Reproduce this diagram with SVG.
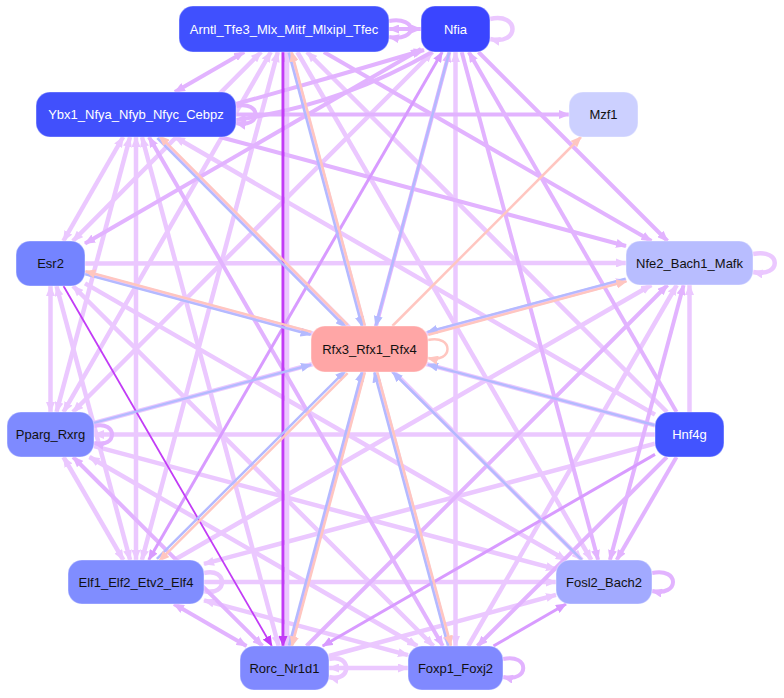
<svg xmlns="http://www.w3.org/2000/svg" width="784" height="698" viewBox="0 0 784 698">
<style>
.e{fill:none}
.e1{stroke:#ebc8ff;stroke-width:4.5}
.e2{stroke:#e2b3ff;stroke-width:4}
.e3{stroke:#d89bff;stroke-width:3}
.e4{stroke:#c23cf6;stroke-width:3}
.eb{stroke:#b4baff;stroke-width:2.5}
.ep{stroke:#ffc6c0;stroke-width:2.5}
.n rect{stroke-width:1.2;stroke:#ffffff;stroke-opacity:0.35}
.n text{font-family:"Liberation Sans",Arial,sans-serif;font-size:13px;text-anchor:middle}
.w text{fill:#ffffff}
.k text{fill:#111111}
</style>
<defs>
<marker id="a1" viewBox="0 0 11 9" refX="10" refY="4.5" markerWidth="11" markerHeight="9" markerUnits="userSpaceOnUse" orient="auto-start-reverse"><path d="M0,0L11,4.5L0,9z" fill="#ebc8ff"/></marker>
<marker id="a2" viewBox="0 0 11 9" refX="10" refY="4.5" markerWidth="11" markerHeight="9" markerUnits="userSpaceOnUse" orient="auto-start-reverse"><path d="M0,0L11,4.5L0,9z" fill="#e2b3ff"/></marker>
<marker id="a3" viewBox="0 0 11 9" refX="10" refY="4.5" markerWidth="11" markerHeight="9" markerUnits="userSpaceOnUse" orient="auto-start-reverse"><path d="M0,0L11,4.5L0,9z" fill="#d89bff"/></marker>
<marker id="a4" viewBox="0 0 11 9" refX="10" refY="4.5" markerWidth="11" markerHeight="9" markerUnits="userSpaceOnUse" orient="auto-start-reverse"><path d="M0,0L11,4.5L0,9z" fill="#c23cf6"/></marker>
<marker id="ab" viewBox="0 0 11 9" refX="10" refY="4.5" markerWidth="11" markerHeight="9" markerUnits="userSpaceOnUse" orient="auto-start-reverse"><path d="M0,0L11,4.5L0,9z" fill="#b4baff"/></marker>
<marker id="ap" viewBox="0 0 11 9" refX="10" refY="4.5" markerWidth="11" markerHeight="9" markerUnits="userSpaceOnUse" orient="auto-start-reverse"><path d="M0,0L11,4.5L0,9z" fill="#ffc6c0"/></marker>
</defs>
<g id="edges" class="e">
<g class="e1" marker-end="url(#a1)">
<line x1="261.1" y1="52" x2="72.9" y2="241" marker-start="url(#a1)"/>
<line x1="270.8" y1="52" x2="63.5" y2="412" marker-start="url(#a1)"/>
<line x1="277.8" y1="52" x2="141.9" y2="560" marker-start="url(#a1)"/>
<line x1="287" y1="646" x2="287" y2="52"/>
<line x1="290.2" y1="52" x2="449.6" y2="646" marker-start="url(#a1)"/>
<line x1="432.5" y1="52" x2="73" y2="412" marker-start="url(#a1)"/>
<line x1="455.5" y1="52" x2="455.5" y2="646" marker-start="url(#a1)"/>
<line x1="123.1" y1="137" x2="63.4" y2="241" marker-start="url(#a1)"/>
<line x1="130" y1="137" x2="56.5" y2="412" marker-start="url(#a1)"/>
<line x1="136" y1="137" x2="136" y2="560" marker-start="url(#a1)"/>
<line x1="142" y1="137" x2="278.6" y2="646" marker-start="url(#a1)"/>
<line x1="50.5" y1="286" x2="50.5" y2="412" marker-start="url(#a1)"/>
<line x1="56.5" y1="286" x2="130.1" y2="560" marker-start="url(#a1)"/>
<line x1="73" y1="286" x2="433.5" y2="646" marker-start="url(#a1)"/>
<line x1="63.5" y1="457" x2="123.3" y2="560" marker-start="url(#a1)"/>
<line x1="89.5" y1="457" x2="417.3" y2="646" marker-start="url(#a1)"/>
<line x1="204" y1="600.3" x2="408" y2="655.2" marker-start="url(#a1)"/>
<line x1="329" y1="668" x2="408" y2="668" marker-start="url(#a1)"/>
<line x1="667" y1="412" x2="307" y2="52"/>
<line x1="655" y1="414.6" x2="174.9" y2="137"/>
<line x1="655" y1="425.3" x2="85" y2="272.7"/>
<line x1="655" y1="434.5" x2="94" y2="434.5"/>
<line x1="655" y1="443.7" x2="204" y2="563.9"/>
<line x1="689.5" y1="412" x2="689.5" y2="285"/>
<line x1="85" y1="263.5" x2="626" y2="263"/>
<line x1="94" y1="422.8" x2="626" y2="280"/>
<line x1="174.2" y1="560" x2="651.3" y2="285"/>
<line x1="468.2" y1="646" x2="676.8" y2="285"/>
<line x1="297.3" y1="52" x2="591.3" y2="560"/>
<line x1="158.5" y1="137" x2="582" y2="560"/>
<line x1="85" y1="283.4" x2="565.8" y2="560"/>
<line x1="94" y1="446.1" x2="556" y2="569.2"/>
<line x1="204" y1="582" x2="556" y2="582"/>
<line x1="329" y1="656" x2="556" y2="594.9"/>
<path d="M490,19 C520,12 520,46 490,39"/>
<path d="M753,254 C782,248 782,278 753,272"/>
<path d="M204,573 C228,567 228,597 204,591"/>
<path d="M329,659 C352,653 352,683 329,677"/>
</g>
<g class="e2" marker-end="url(#a2)">
<line x1="389" y1="29" x2="421" y2="29" marker-start="url(#a2)"/>
<line x1="244.2" y1="52" x2="174.9" y2="92" marker-start="url(#a2)"/>
<path d="M236,104 Q330,78 424,50"/>
<path d="M432,52 Q340,105 236,120"/>
<line x1="421" y1="49" x2="85" y2="243.5" marker-start="url(#a2)"/>
<line x1="449.3" y1="52" x2="290.4" y2="646" marker-start="url(#a2)"/>
<line x1="149" y1="137" x2="442.8" y2="646" marker-start="url(#a2)"/>
<line x1="73.1" y1="457" x2="262.5" y2="646" marker-start="url(#a2)"/>
<line x1="174" y1="604" x2="246.5" y2="646" marker-start="url(#a2)"/>
<line x1="676.5" y1="412" x2="468.8" y2="52"/>
<line x1="666.9" y1="457" x2="477.5" y2="646"/>
<line x1="676.5" y1="457" x2="616.7" y2="560"/>
<line x1="323.9" y1="52" x2="651.4" y2="241"/>
<line x1="478.4" y1="52" x2="667.5" y2="241"/>
<line x1="219.9" y1="137" x2="626" y2="246"/>
<line x1="306.5" y1="646" x2="667.5" y2="285"/>
<line x1="609.9" y1="560" x2="683.6" y2="285" marker-start="url(#a2)"/>
<line x1="461.7" y1="52" x2="598.1" y2="560"/>
<line x1="236" y1="114.5" x2="569" y2="114.5"/>
<path d="M389,21 C418,16 418,42 389,37"/>
<path d="M236,106 C262,100 262,129 236,123"/>
<path d="M94,426 C118,420 118,449 94,443"/>
<path d="M503,659 C530,653 530,683 503,677"/>
<path d="M652,573 C680,567 680,597 652,591"/>
</g>
<g class="e3" marker-end="url(#a3)">
<line x1="442.2" y1="52" x2="148.7" y2="560" marker-start="url(#a3)"/>
<line x1="655" y1="454.4" x2="322.7" y2="646"/>
<line x1="493.5" y1="646" x2="566" y2="604"/>
</g>
<g class="e4" marker-end="url(#a4)">
<line x1="283" y1="52" x2="283" y2="646"/>
<line x1="63.5" y1="286" x2="271.8" y2="646" style="stroke-width:1.8"/>
</g>
<g class="eb" marker-end="url(#ab)">
<line x1="449.3" y1="52" x2="375.7" y2="326"/>
<line x1="288.7" y1="52.4" x2="362" y2="326.4"/>
<line x1="157.3" y1="138.1" x2="345.5" y2="327.1"/>
<line x1="84.6" y1="274.1" x2="310.6" y2="334.7"/>
<line x1="625.6" y1="278.6" x2="427.6" y2="331.9"/>
<line x1="156.9" y1="558.9" x2="345.4" y2="370.9"/>
<line x1="289" y1="645.6" x2="362" y2="371.6"/>
<line x1="448.2" y1="646.4" x2="374.3" y2="372.4"/>
<line x1="94" y1="422.9" x2="311" y2="364.7"/>
<line x1="655" y1="425.3" x2="428" y2="364.6"/>
<line x1="581.9" y1="560" x2="392.6" y2="372"/>
</g>
<g class="ep" marker-end="url(#ap)">
<line x1="364.8" y1="325.6" x2="291.5" y2="51.6"/>
<line x1="347.7" y1="324.9" x2="159.5" y2="135.9"/>
<line x1="311.4" y1="331.9" x2="85.4" y2="271.3"/>
<line x1="428.4" y1="334.7" x2="626.4" y2="281.4"/>
<line x1="347.6" y1="373.1" x2="159.1" y2="561.1"/>
<line x1="364.8" y1="372.4" x2="291.8" y2="646.4"/>
<line x1="377.1" y1="371.6" x2="451" y2="645.6"/>
<line x1="392.4" y1="326" x2="581" y2="137"/>
<path d="M428,340 C454,334 454,364 428,358"/>
</g>
</g>
<g id="node-Arntl" class="n w"><rect x="179" y="6" width="210" height="46" rx="14" fill="#4050fe"/><text x="284" y="33.5">Arntl_Tfe3_Mlx_Mitf_Mlxipl_Tfec</text></g>
<g id="node-Nfia" class="n w"><rect x="421" y="6" width="69" height="46" rx="14" fill="#3a45ff"/><text x="455.5" y="33.5">Nfia</text></g>
<g id="node-Ybx1" class="n w"><rect x="36" y="92" width="200" height="45" rx="14" fill="#4150fc"/><text x="136" y="119">Ybx1_Nfya_Nfyb_Nfyc_Cebpz</text></g>
<g id="node-Mzf1" class="n k"><rect x="569" y="92" width="69" height="45" rx="14" fill="#ccd0ff"/><text x="603.5" y="119">Mzf1</text></g>
<g id="node-Esr2" class="n k"><rect x="16" y="241" width="69" height="45" rx="14" fill="#7484ff"/><text x="50.5" y="268">Esr2</text></g>
<g id="node-Nfe2" class="n k"><rect x="626" y="241" width="127" height="44" rx="14" fill="#b8bdff"/><text x="689.5" y="267.5">Nfe2_Bach1_Mafk</text></g>
<g id="node-Rfx3" class="n k"><rect x="311" y="326" width="117" height="46" rx="14" fill="#ffa6a6"/><text x="369.5" y="353.5">Rfx3_Rfx1_Rfx4</text></g>
<g id="node-Pparg" class="n k"><rect x="7" y="412" width="87" height="45" rx="14" fill="#7e8aff"/><text x="50.5" y="439">Pparg_Rxrg</text></g>
<g id="node-Hnf4g" class="n w"><rect x="655" y="412" width="69" height="45" rx="14" fill="#4254ff"/><text x="689.5" y="439">Hnf4g</text></g>
<g id="node-Elf1" class="n k"><rect x="68" y="560" width="136" height="44" rx="14" fill="#808dff"/><text x="136" y="586.5">Elf1_Elf2_Etv2_Elf4</text></g>
<g id="node-Fosl2" class="n k"><rect x="556" y="560" width="96" height="44" rx="14" fill="#a2aaff"/><text x="604" y="586.5">Fosl2_Bach2</text></g>
<g id="node-Rorc" class="n k"><rect x="240" y="646" width="89" height="44" rx="14" fill="#8089ff"/><text x="284.5" y="672.5">Rorc_Nr1d1</text></g>
<g id="node-Foxp1" class="n k"><rect x="408" y="646" width="95" height="44" rx="14" fill="#8089ff"/><text x="455.5" y="672.5">Foxp1_Foxj2</text></g>
</svg>
